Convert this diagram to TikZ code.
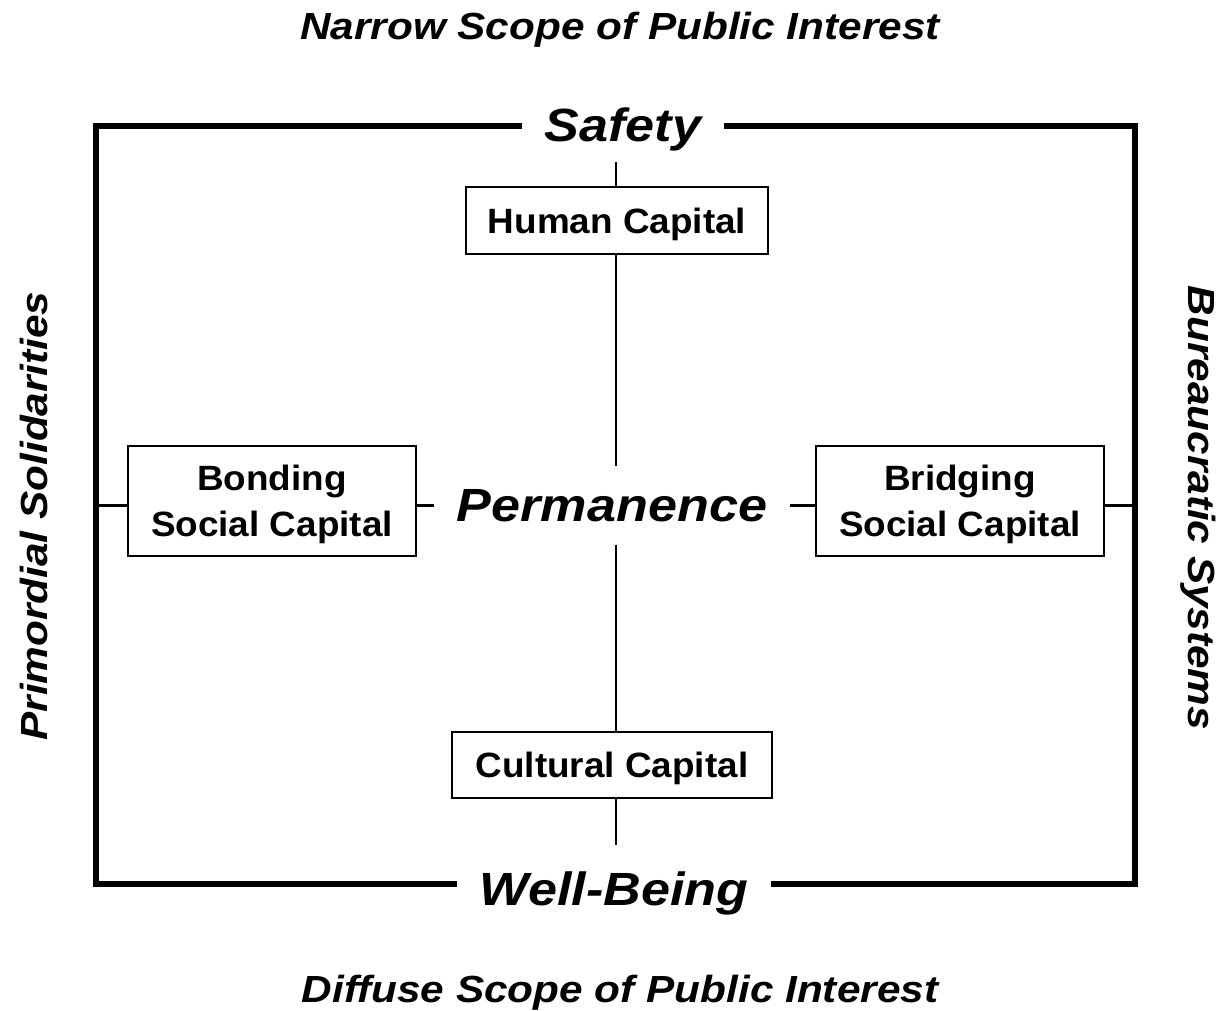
\documentclass[tikz,border=0pt]{standalone}
\usepackage{fontspec}
\setmainfont[FakeStretch=1.05]{Liberation Sans}
\newfontfamily\polefont[FakeStretch=1.12]{Liberation Sans}
\usetikzlibrary{positioning}

\tikzset{
	capbox/.style={draw, line width=1.1pt, align=center, inner sep=0pt, text depth=0pt,
		font=\bfseries\fontsize{20}{26}\selectfont},
	link/.style={line width=1.6pt},
	frame/.style={line width=3.4pt},
	pole/.style={anchor=base, inner xsep=13pt, inner ysep=0pt,
		font=\polefont\bfseries\itshape\fontsize{26.5}{30}\selectfont},
	axislabel/.style={anchor=base, inner sep=0pt,
		font=\polefont\bfseries\itshape\fontsize{21.5}{25}\selectfont},
}

\begin{document}
\begin{tikzpicture}[x=0.02cm, y=-0.02cm]
    	\useasboundingbox (0,0) rectangle (1229,1010);
    	\coordinate (tl) at (96,126);
    	\coordinate (tr) at (1135,126);
    	\coordinate (br) at (1135,884);
    	\coordinate (bl) at (96,884);
    	\coordinate (safetyfoot) at (616,162);
    	\coordinate (wellhead) at (616,845);

    	\node[axislabel] (narrow) at (620,40) {Narrow Scope of Public Interest};
    	\node[axislabel] (diffuse) at (620,1002) {Diffuse Scope of Public Interest};
    	\node[axislabel, rotate=90] (primordial) at (47,516) {Primordial Solidarities};
    	\node[axislabel, rotate=-90] (bureau) at (1188,508) {Bureaucratic Systems};

    	\node[pole] (safety) at (623,142) {Safety};
    	\node[pole] (wellbeing) at (614,905) {Well-Being};
    	\node[pole, inner sep=13pt] (perm) at (612,521) {Permanence};

    	\node[capbox, minimum width=6.04cm, minimum height=1.34cm] (human) at (617,220.5) {Human Capital};
    	\node[capbox, minimum width=6.4cm, minimum height=1.32cm] (cultural) at (612,765) {Cultural Capital};
    	\node[capbox, minimum width=5.76cm, minimum height=2.2cm] (bonding) at (272,501) {Bonding\\Social Capital};
    	\node[capbox, minimum width=5.76cm, minimum height=2.2cm] (bridging) at (960,501) {Bridging\\Social Capital};

    	\draw[frame] (safety.west |- tl) -- (tl) -- (bl) -- (wellbeing.west |- bl);
    	\draw[frame] (safety.east |- tr) -- (tr) -- (br) -- (wellbeing.east |- br);

    	\draw[link] (safetyfoot) -- (human.north -| safetyfoot);
    	\draw[link] (human.south -| safetyfoot) -- (perm.north -| safetyfoot);
    	\draw[link] (perm.south -| safetyfoot) -- (cultural.north -| safetyfoot);
    	\draw[link] (cultural.south -| safetyfoot) -- (wellhead);
    	\draw[link] (bl |- perm) -- (bonding.west |- perm);
    	\draw[link] (bonding.east |- perm) -- (perm.west);
    	\draw[link] (perm.east) -- (bridging.west |- perm);
    	\draw[link] (bridging.east |- perm) -- (br |- perm);
    \end{tikzpicture}
\end{document}
